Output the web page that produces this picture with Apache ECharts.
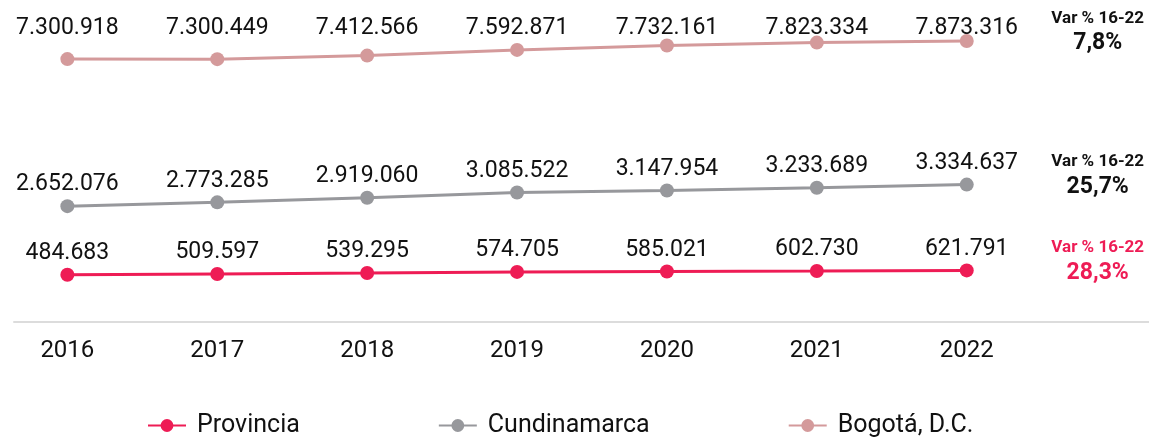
<!DOCTYPE html>
<html>
<head>
<meta charset="utf-8">
<script src="https://cdn.jsdelivr.net/npm/echarts@6/dist/echarts.min.js"></script>
<style>
  html, body { margin: 0; padding: 0; background: #fff; }
  #main { width: 1149px; height: 438px; }
</style>
</head>
<body>
<div id="main"></div>
<script>
// datos por año
const years = [2016, 2017, 2018, 2019, 2020, 2021, 2022];
const provincia = [484683, 509597, 539295, 574705, 585021, 602730, 621791];
const cundinamarca = [2652076, 2773285, 2919060, 3085522, 3147954, 3233689, 3334637];
const bogota = [7300918, 7300449, 7412566, 7592871, 7732161, 7823334, 7873316];

const FONT = 'Roboto';
const xMin = 2015.644;
const xMax = 2023.216;

// 7300918 -> 7.300.918
const fmt = v => String(v).replace(/\B(?=(\d{3})+(?!\d))/g, '.');
// variación primer a último año
const varPct = arr => ((arr[arr.length - 1] / arr[0] - 1) * 100).toFixed(1).replace('.', ',') + '%';

function makeSeries(name, values, color, showLabel, pctColor) {
  return {
    name: name,
    type: 'line',
    data: years.map((y, i) => [y, values[i]]),
    symbol: 'circle',
    symbolSize: 14,
    lineStyle: { color: color, width: 3 },
    itemStyle: { color: color },
    label: {
      show: showLabel,
      position: 'top',
      distance: 3,
      formatter: p => fmt(p.value[1]),
      fontFamily: FONT,
      fontSize: 23,
      color: '#111'
    },
    endLabel: {
      show: true,
      formatter: () => '{a|Var % 16-22}\n{b|' + varPct(values) + '}',
      align: 'center',
      verticalAlign: 'middle',
      distance: 0,
      offset: [131, -10],
      rich: {
        a: { fontFamily: FONT, fontSize: 17, fontWeight: 'bold', color: pctColor, lineHeight: 25, align: 'center' },
        b: { fontFamily: FONT, fontSize: 23, fontWeight: 'bold', color: pctColor, lineHeight: 25, align: 'center' }
      }
    }
  };
}

const chart = echarts.init(document.getElementById('main'));
chart.setOption({
  animation: false,
  grid: { left: 14, right: 0, top: 37, bottom: 116.3 },
  legend: {
    left: 147,
    bottom: 0,
    padding: 0,
    itemWidth: 38,
    itemHeight: 16,
    itemGap: 138,
    textStyle: { fontFamily: FONT, fontSize: 25, color: '#111', padding: [0, 0, 0, 6] },
    data: ['Provincia', 'Cundinamarca', 'Bogotá, D.C.']
  },
  xAxis: [
    {
      type: 'value',
      min: xMin,
      max: xMax,
      axisLine: { onZero: false, lineStyle: { color: '#dcdcdc', width: 2 } },
      axisTick: { show: false },
      splitLine: { show: false },
      axisLabel: {
        customValues: years,
        formatter: v => String(v),
        fontFamily: FONT,
        fontSize: 24,
        color: '#111',
        margin: 17
      }
    },
    {
      // valores de Bogotá alineados arriba
      type: 'value',
      position: 'top',
      min: xMin,
      max: xMax,
      axisLine: { show: false },
      axisTick: { show: false },
      splitLine: { show: false },
      axisLabel: {
        customValues: years,
        formatter: v => fmt(bogota[years.indexOf(Math.round(v))]),
        fontFamily: FONT,
        fontSize: 23,
        color: '#111',
        verticalAlign: 'middle',
        margin: 9
      }
    }
  ],
  yAxis: {
    type: 'value',
    min: -1000000,
    max: 8000000,
    show: false
  },
  series: [
    makeSeries('Provincia', provincia, '#ee1c55', true, '#ee1c55'),
    makeSeries('Cundinamarca', cundinamarca, '#97989c', true, '#111'),
    makeSeries('Bogotá, D.C.', bogota, '#d49a9b', false, '#111')
  ]
});
</script>
</body>
</html>
